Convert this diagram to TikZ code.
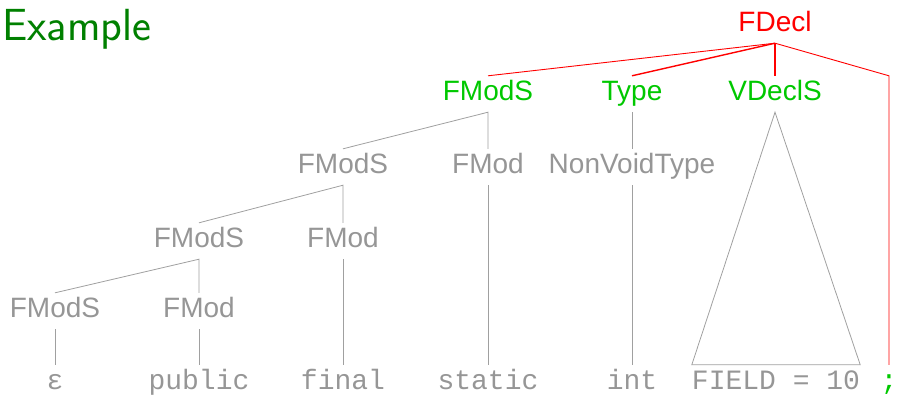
\documentclass[tikz,border=0pt]{standalone}
\usepackage{fontspec}
\setmainfont{Liberation Sans}
\setmonofont{Liberation Mono}
\definecolor{tgray}{RGB}{150,150,150}
\definecolor{lgray}{RGB}{160,160,160}
\definecolor{tgreen}{RGB}{0,200,0}
\definecolor{dgreen}{RGB}{0,128,0}
\definecolor{tred}{RGB}{255,0,0}
\begin{document}
\begin{tikzpicture}[x=1pt,y=-1pt,
  lab/.style={anchor=base,font=\fontsize{28}{32}\selectfont,text height=20pt,text depth=8pt,inner ysep=4pt,inner xsep=0pt},
  gl/.style={lab,text=tgray},
  grl/.style={lab,text=tgreen},
  code/.style={lab,font=\fontsize{28}{32}\selectfont\ttfamily,text=tgray},
  gline/.style={draw=lgray,line width=0.8pt},
  rline/.style={draw=tred,line width=0.9pt}]
\useasboundingbox (0,0) rectangle (899,394);
\node[anchor=base west,inner sep=0pt,text=dgreen,font=\fontsize{45}{52}\selectfont\sffamily] (title) at (2,40) {Example};
% top
\node[lab,text=tred] (fdecl) at (775,31) {FDecl};
% row 1
\node[grl] (fmods1) at (488,100) {FModS};
\node[grl] (type) at (632,100) {Type};
\node[grl] (vdecls) at (775,100) {VDeclS};
% row 2
\node[gl] (fmods2) at (343,173) {FModS};
\node[gl] (fmod2) at (488,173) {FMod};
\node[gl] (nvt) at (632,173) {NonVoidType};
% row 3
\node[gl] (fmods3) at (199,247) {FModS};
\node[gl] (fmod3) at (343,247) {FMod};
% row 4
\node[gl] (fmods4) at (55,317) {FModS};
\node[gl] (fmod4) at (199,317) {FMod};
% leaves
\node[code] (eps) at (55,389) {ε};
\node[code] (public) at (199,389) {public};
\node[code] (final) at (343,389) {final};
\node[code] (static) at (488,389) {static};
\node[code] (int) at (632,389) {int};
\node[code] (field) at (776,389) {FIELD = 10};
\node[code,text=tgreen] (semi) at (889,389) {;};
% red edges
\draw[rline] (fdecl.south) -- (fmods1.north);
\draw[rline,line width=1.4pt] (fdecl.south) -- (type.north);
\draw[rline,line width=1.4pt] (fdecl.south) -- (vdecls.north);
\draw[rline] (fdecl.south) -- (semi.north |- vdecls.north) -- (semi.north);
% gray edges
\draw[gline] (fmods2.north) -- (fmods1.south) -- (fmod2.north);
\draw[gline] (fmod2.south) -- (static.north);
\draw[gline] (type.south) -- (nvt.north);
\draw[gline] (nvt.south) -- (int.north);
\draw[gline] (fmods3.north) -- (fmods2.south) -- (fmod3.north);
\draw[gline] (fmod3.south) -- (final.north);
\draw[gline] (fmods4.north) -- (fmods3.south) -- (fmod4.north);
\draw[gline] (fmod4.south) -- (public.north);
\draw[gline] (fmods4.south) -- (eps.north);
\draw[gline] (vdecls.south) -- (field.north west) -- (field.north east) -- cycle;
\end{tikzpicture}
\end{document}
